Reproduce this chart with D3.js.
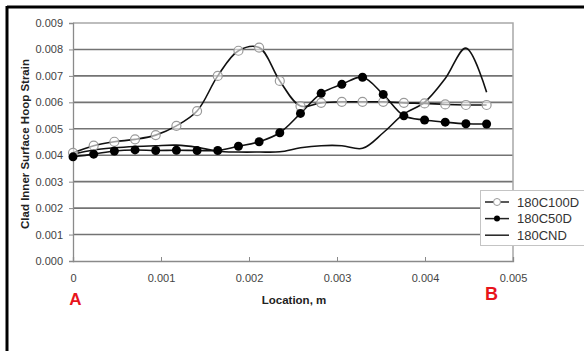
<!DOCTYPE html>
<html><head><meta charset="utf-8">
<script src="https://cdn.jsdelivr.net/npm/d3@7"></script>
<style>body{margin:0;background:#fff}svg{display:block}</style>
</head><body><svg id="c" width="584" height="351"></svg>
<script>
const locations = [0,0.000235,0.00047,0.000705,0.00094,0.001175,0.00141,0.001645,0.00188,0.002115,0.00235,0.002585,0.00282,0.003055,0.00329,0.003525,0.00376,0.003995,0.00423,0.004465,0.0047];
const s100D = [0.00409,0.00436,0.00451,0.00460,0.00476,0.00511,0.00567,0.00700,0.00795,0.00807,0.00681,0.00586,0.00598,0.00602,0.00602,0.00602,0.00598,0.00596,0.00592,0.00590,0.00590];
const s50D = [0.00394,0.00404,0.00416,0.00420,0.00418,0.00419,0.00418,0.00418,0.00434,0.00451,0.00485,0.00558,0.00634,0.00668,0.00695,0.00630,0.00549,0.00533,0.00525,0.00519,0.00518];
const sND = [0.00404,0.00420,0.00428,0.00433,0.00436,0.00438,0.00430,0.00415,0.00412,0.00412,0.00413,0.00428,0.00436,0.00436,0.00426,0.00485,0.00556,0.00600,0.00690,0.00805,0.00638];
const seriesNames = ["180C100D","180C50D","180CND"];
const yTicks = [0,0.001,0.002,0.003,0.004,0.005,0.006,0.007,0.008,0.009];
const xTicks = [0,0.001,0.002,0.003,0.004,0.005];
const yTickLabels = ["0.000","0.001","0.002","0.003","0.004","0.005","0.006","0.007","0.008","0.009"];
const xTickLabels = ["0","0.001","0.002","0.003","0.004","0.005"];

const svg = d3.select("#c");
const L=73, R=513, T=23, B=261;
const x = d3.scaleLinear().domain([0,0.005]).range([L,R]);
const y = d3.scaleLinear().domain([0,0.009]).range([B,T]);
const font = "Arial, 'Liberation Sans', sans-serif";

// frame
svg.append("line").attr("x1",7).attr("x2",584).attr("y1",7).attr("y2",7).attr("stroke","#000").attr("stroke-width",3);
svg.append("line").attr("x1",7).attr("x2",7).attr("y1",6).attr("y2",351).attr("stroke","#000").attr("stroke-width",3);

// gridlines
svg.append("g").selectAll("line").data(yTicks.filter(d=>d>0 && d<0.009)).join("line")
  .attr("x1",L).attr("x2",R).attr("y1",d=>y(d)).attr("y2",d=>y(d))
  .attr("stroke","#737373").attr("stroke-width",1.6);
// plot border top/right
svg.append("path").attr("d",`M${L},${y(0.009)}H${R}V${B}`).attr("fill","none").attr("stroke","#a8a8a8").attr("stroke-width",1.5);

// axes
const yAxis = d3.axisLeft(y).tickValues(yTicks).tickFormat((d,i)=>yTickLabels[i]).tickSize(4).tickPadding(6);
const gy = svg.append("g").attr("transform",`translate(${L},0)`).call(yAxis);
gy.select(".domain").attr("stroke","#8a8a8a").attr("stroke-width",1.3);
gy.selectAll(".tick line").attr("stroke","#8a8a8a");
gy.selectAll("text").attr("font-family",font).attr("font-size",11).attr("fill","#444");

const xAxis = d3.axisBottom(x).tickValues(xTicks).tickFormat((d,i)=>xTickLabels[i]).tickSize(-4).tickPadding(13);
const gx = svg.append("g").attr("transform",`translate(0,${B})`).call(xAxis);
gx.select(".domain").attr("stroke","#8a8a8a").attr("stroke-width",1.3);
gx.selectAll(".tick line").attr("stroke","#8a8a8a");
gx.selectAll("text").attr("font-family",font).attr("font-size",11).attr("fill","#444");

// series
const curve = d3.curveCatmullRom.alpha(0.5);
const line = d3.line().x((d,i)=>x(locations[i])).y(d=>y(d)).curve(curve);
svg.append("path").attr("d",line(sND)).attr("fill","none").attr("stroke","#111").attr("stroke-width",1.6);
svg.append("path").attr("d",line(s100D)).attr("fill","none").attr("stroke","#111").attr("stroke-width",1.6);
svg.append("path").attr("d",line(s50D)).attr("fill","none").attr("stroke","#111").attr("stroke-width",1.6);
svg.append("g").selectAll("circle").data(s100D).join("circle")
  .attr("cx",(d,i)=>x(locations[i])).attr("cy",d=>y(d)).attr("r",4.5)
  .attr("fill","#fff").attr("fill-opacity",0.6).attr("stroke","#9a9a9a").attr("stroke-width",1.2);
svg.append("g").selectAll("circle").data(s50D).join("circle")
  .attr("cx",(d,i)=>x(locations[i])).attr("cy",d=>y(d)).attr("r",4.5)
  .attr("fill","#000");

// axis titles
svg.append("text").attr("x",294).attr("y",303.5).attr("text-anchor","middle")
  .attr("font-family",font).attr("font-weight","bold").attr("font-size",11.5).attr("fill","#222").text("Location, m");
svg.append("text").attr("transform",`translate(29,144) rotate(-90)`).attr("text-anchor","middle")
  .attr("font-family",font).attr("font-weight","bold").attr("font-size",11.5).attr("fill","#222").text("Clad Inner Surface Hoop Strain");

// A / B labels
svg.append("text").attr("x",75.5).attr("y",305).attr("text-anchor","middle")
  .attr("font-family",font).attr("font-weight","bold").attr("font-size",17).attr("fill","#e8141c").text("A");
svg.append("text").attr("x",491.5).attr("y",299.5).attr("text-anchor","middle")
  .attr("font-family",font).attr("font-weight","bold").attr("font-size",18).attr("fill","#e8141c").text("B");

// legend
const lg = svg.append("g");
lg.append("rect").attr("x",480.5).attr("y",190.5).attr("width",110).attr("height",55)
  .attr("fill","#fff").attr("stroke","#c4c4c4");
seriesNames.forEach((n,i)=>{
  const yy = 202 + i*16.6;
  lg.append("line").attr("x1",485).attr("x2",509).attr("y1",yy).attr("y2",yy).attr("stroke","#222").attr("stroke-width",1.5);
  if(i===0) lg.append("circle").attr("cx",497).attr("cy",yy).attr("r",3.5).attr("fill","#fff").attr("stroke","#999");
  if(i===1) lg.append("circle").attr("cx",497).attr("cy",yy).attr("r",3).attr("fill","#000");
  lg.append("text").attr("x",517).attr("y",yy+4.5).attr("font-family",font).attr("font-size",13).attr("fill","#333").text(n);
});
</script></body></html>
